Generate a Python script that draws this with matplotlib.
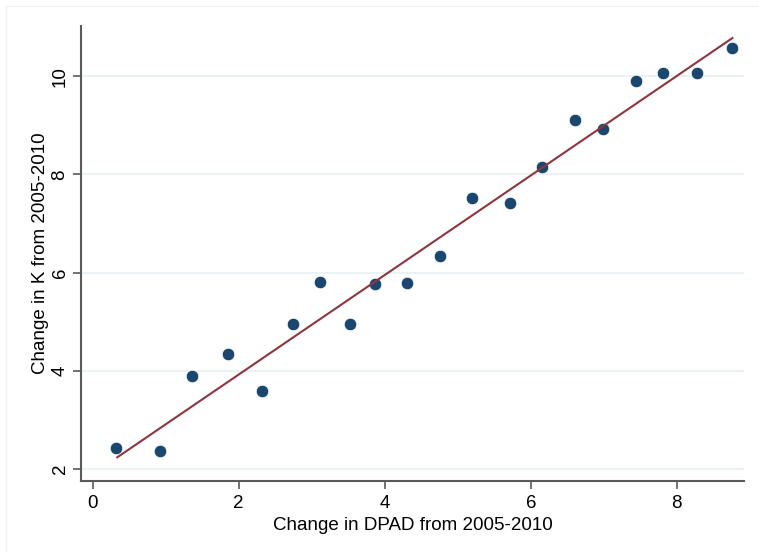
import matplotlib
matplotlib.use("Agg")
import matplotlib.pyplot as plt
from matplotlib.patches import Rectangle

plt.rcParams['font.family'] = ['Liberation Sans', 'DejaVu Sans']

# Binned scatter values
x_vals = [0.32, 0.92, 1.36, 1.85, 2.32, 2.74, 3.12, 3.52, 3.87, 4.31,
          4.76, 5.20, 5.72, 6.16, 6.61, 6.99, 7.44, 7.81, 8.27, 8.75]
y_vals = [2.43, 2.37, 3.89, 4.34, 3.59, 4.96, 5.81, 4.96, 5.76, 5.79,
          6.33, 7.51, 7.42, 8.14, 9.10, 8.92, 9.89, 10.06, 10.06, 10.57]

# Fitted line
fit_x = [0.337, 8.762]
fit_intercept = 1.897
fit_slope = 1.0133

x_ticks = [0, 2, 4, 6, 8]
y_ticks = [2, 4, 6, 8, 10]
x_label = "Change in DPAD from 2005-2010"
y_label = "Change in K from 2005-2010"

navy = "#1a476f"
maroon = "#90353b"
axis_col = "#5a5a5a"
grid_col = "#eaf2f3"

fig = plt.figure(figsize=(7.59, 5.52), dpi=100)
fig.patch.set_facecolor("white")
# faint outer graph-region border
fig.patches.append(Rectangle((6/759, -0.05), 1.2, 1 - 6/552 + 0.05,
                             transform=fig.transFigure, fill=False,
                             edgecolor="#eef2f4", linewidth=1.0))

ax = fig.add_axes([81/759, 1 - 481/552, (744 - 81)/759, (481 - 26)/552])
ax.set_xlim(-0.16, 8.92)
ax.set_ylim(1.756, 11.02)

for yt in y_ticks:
    ax.axhline(yt, color=grid_col, linewidth=1.4, zorder=0)

ax.scatter(x_vals, y_vals, s=82, color=navy, edgecolors="white",
           linewidths=0.6, zorder=3)
fit_y = [fit_intercept + fit_slope * xv for xv in fit_x]
ax.plot(fit_x, fit_y, color=maroon, linewidth=1.5, zorder=4)

for s in ["top", "right"]:
    ax.spines[s].set_visible(False)
for s in ["left", "bottom"]:
    ax.spines[s].set_color(axis_col)
    ax.spines[s].set_linewidth(1.5)

ax.set_xticks(x_ticks)
ax.set_yticks(y_ticks)
ax.tick_params(axis="both", colors=axis_col, length=6, width=1.2,
               labelsize=13.5, labelcolor="black")
ax.tick_params(axis="x", pad=4)
ax.tick_params(axis="y", pad=3)
for lab in ax.get_yticklabels():
    lab.set_rotation(90)
    lab.set_va("center")

ax.set_xlabel(x_label, fontsize=13.5, labelpad=4)
ax.set_ylabel(y_label, fontsize=13.5, labelpad=1.5)

fig.savefig("out.png", dpi=100, facecolor="white")
